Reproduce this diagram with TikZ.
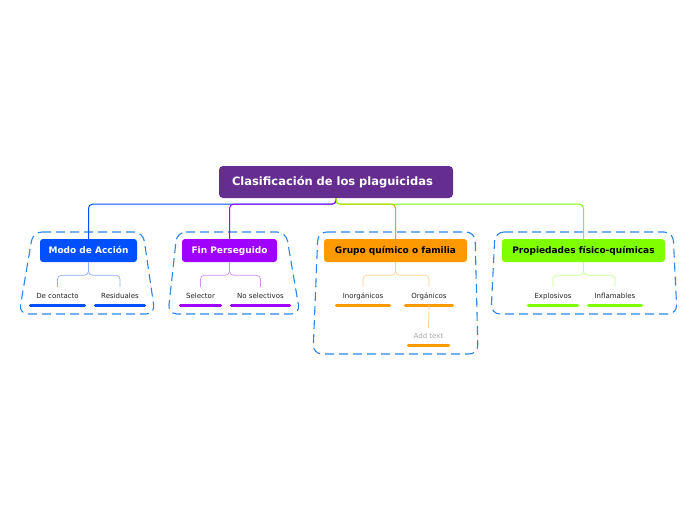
\documentclass[tikz,border=0pt]{standalone}
\usepackage{fontspec}
\setmainfont{DejaVu Sans}
\usepackage{xcolor}
\usetikzlibrary{positioning}
\definecolor{rootcol}{HTML}{662D91}
\definecolor{modo}{HTML}{0050FF}
\definecolor{fin}{HTML}{A000FF}
\definecolor{grupo}{HTML}{FF9900}
\definecolor{props}{HTML}{80FF00}
\definecolor{frame}{HTML}{2C86EA}
\definecolor{ink}{HTML}{222222}
\definecolor{ghost}{HTML}{A8A8A8}
\newcommand{\rootfont}{\fontsize{11.5}{13}\selectfont\bfseries}

\begin{document}
\begin{tikzpicture}[x=1pt,y=-1pt,
  topic/.style={rounded corners=3pt, minimum height=23pt, inner sep=0pt, text height=6.5pt, text depth=1.5pt, font=\fontsize{9}{10}\selectfont\bfseries},
  leaf/.style={minimum height=17pt, inner sep=0pt, text height=5pt, text depth=1.5pt, font=\fontsize{7}{8}\selectfont, text=ink},
  bar/.style={line width=3pt, line cap=round},
  link/.style={line width=1pt, rounded corners=4pt},
  sublink/.style={line width=0.7pt, rounded corners=4pt},
  region/.style={draw=frame, line width=1.1pt, dash pattern=on 9pt off 5pt, rounded corners=9pt}]
  \fill[white] (0,0) rectangle (696,520);
  \useasboundingbox (0,0) rectangle (696,520);

  \draw[region] (33,232) -- (143,232) -- (155,314) -- (19,314) -- cycle;
  \draw[region] (177,232) -- (286,232) -- (300,314) -- (168,314) -- cycle;
  \draw[region] (318,232) -- (475,232) -- (478,354) -- (313,354) -- cycle;
  \draw[region] (495,232) -- (673,232) -- (677,314) -- (491,314) -- cycle;

  \node[fill=rootcol, rounded corners=4pt, text width=208pt, align=left, inner xsep=13pt,
        minimum height=32pt, text=white, font=\rootfont] (root) at (336,182) {Clasificación de los plaguicidas};

  \foreach \name/\cx/\w/\txt/\fg in {
    modo/88.5/97/Modo de Acción/white,
    fin/229.5/95/Fin Perseguido/white,
    grupo/395.5/143/Grupo químico o familia/black,
    props/583.5/163/Propiedades físico-químicas/black}
  {
    \node[topic, fill=\name, text=\fg, minimum width=\w pt] (\name) at (\cx,250.5) {\txt};
    \draw[link, \name] (root.south) -- ++(0,6) -| (\name.north);
  }

  \foreach \name/\cx/\w/\txt/\up in {
    dc/57.5/54/De contacto/modo,
    res/120/49/Residuales/modo,
    sel/200.5/40/Selector/fin,
    nosel/260.5/58/No selectivos/fin,
    inorg/363/53/Inorgánicos/grupo,
    org/429/47/Orgánicos/grupo,
    expl/553/49/Explosivos/props,
    infl/615/53/Inflamables/props}
  {
    \node[leaf, minimum width=\w pt] (\name) at (\cx,296.5) {\txt};
    \draw[bar, \up] (\name.south west) -- (\name.south east);
    \draw[sublink, \up!45] (\up.south) -- ++(0,13) -| ([yshift=1pt]\name.north);
  }

  \node[leaf, text=ghost, minimum width=40pt] (add) at (428.5,336.5) {Add text};
  \draw[bar, grupo] (add.south west) -- (add.south east);
  \draw[sublink, grupo!45] (org.south) -- (add.north);
\end{tikzpicture}
\end{document}
